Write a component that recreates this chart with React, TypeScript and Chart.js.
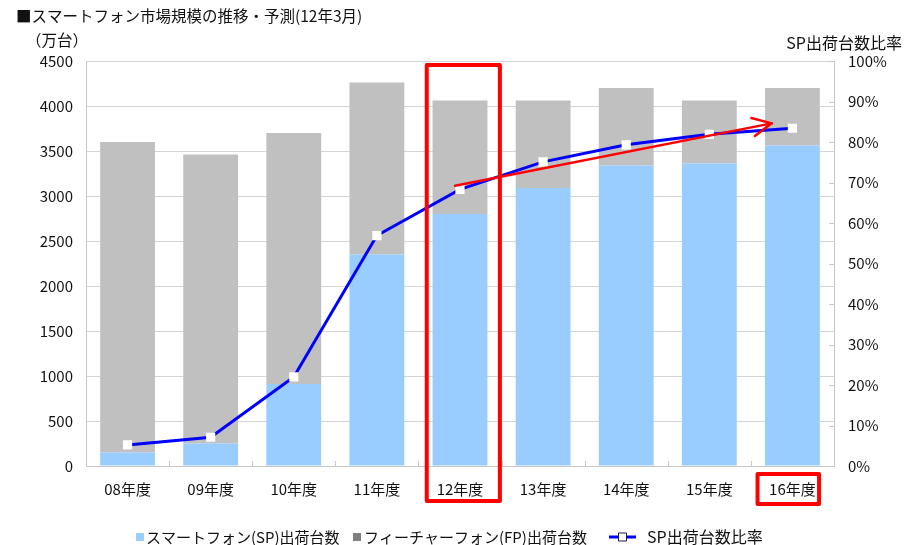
import React, { useEffect, useRef } from "react";
import { Chart, registerables } from "chart.js";

Chart.register(...registerables);

const categories = ["08年度", "09年度", "10年度", "11年度", "12年度", "13年度", "14年度", "15年度", "16年度"];
const spUnits = [150, 250, 910, 2350, 2800, 3090, 3340, 3360, 3560];
const fpUnits = [3450, 3210, 2790, 1910, 1260, 970, 860, 700, 640];
const spRatio = [5.2, 7.1, 22, 56.9, 68.3, 75.1, 79.3, 81.9, 83.4];
const leftTicks = [0, 500, 1000, 1500, 2000, 2500, 3000, 3500, 4000, 4500];
const rightTicks = [0, 10, 20, 30, 40, 50, 60, 70, 80, 90, 100];

const titleText = "■スマートフォン市場規模の推移・予測(12年3月)";
const leftUnit = "（万台）";
const rightUnit = "SP出荷台数比率";
const legendSP = "スマートフォン(SP)出荷台数";
const legendFP = "フィーチャーフォン(FP)出荷台数";
const legendRatio = "SP出荷台数比率";

const FONT = "'Noto Sans CJK JP', 'Noto Sans', sans-serif";
const SP_COLOR = "#99ccff";
const FP_COLOR = "#c0c0c0";
const LINE_COLOR = "#0000ff";

const overlayPlugin = {
  id: "overlay",
  afterDraw(chart: any) {
    const ctx = chart.ctx as CanvasRenderingContext2D;
    const xs = chart.scales.x;
    const ys = chart.scales.y;
    const y1 = chart.scales.y1;
    const area = chart.chartArea;
    const catW = (area.right - area.left) / categories.length;
    ctx.save();

    // inward ticks on x axis at category boundaries
    ctx.strokeStyle = "#c8c8c8";
    ctx.lineWidth = 1;
    for (let i = 0; i < categories.length - 1; i++) {
      const x = Math.round(xs.getPixelForValue(i) + catW / 2) + 0.5;
      ctx.beginPath();
      ctx.moveTo(x, area.bottom);
      ctx.lineTo(x, area.bottom - 5);
      ctx.stroke();
    }
    // inward ticks on right axis
    for (const t of rightTicks) {
      const y = Math.round(y1.getPixelForValue(t)) + 0.5;
      ctx.beginPath();
      ctx.moveTo(area.right, y);
      ctx.lineTo(area.right - 5, y);
      ctx.stroke();
    }

    // texts
    ctx.fillStyle = "#111";
    ctx.textBaseline = "middle";
    ctx.textAlign = "left";
    ctx.font = `15.5px ${FONT}`;
    ctx.fillText(titleText, 16, 16);
    ctx.font = `15.5px ${FONT}`;
    ctx.fillText(leftUnit, 26, 40);
    ctx.textAlign = "right";
    ctx.font = `16px ${FONT}`;
    ctx.fillText(rightUnit, 902, 43);

    // red annotations
    ctx.strokeStyle = "#ff0000";
    ctx.lineJoin = "round";
    ctx.lineWidth = 4;
    const c12 = xs.getPixelForValue(4);
    const top12 = ys.getPixelForValue(4500) + 4;
    ctx.beginPath();
    ctx.rect(c12 - catW * 0.4, top12, catW * 0.88, area.bottom + 35 - top12);
    ctx.stroke();
    const c16 = xs.getPixelForValue(8);
    ctx.beginPath();
    ctx.rect(c16 - catW * 0.42, area.bottom + 8, catW * 0.74, 30);
    ctx.stroke();

    // arrow
    const ax0 = xs.getPixelForValue(4) - catW * 0.06;
    const ay0 = y1.getPixelForValue(69.2);
    const ax1 = xs.getPixelForValue(8) - catW * 0.25;
    const ay1 = y1.getPixelForValue(84.6);
    ctx.lineWidth = 2.5;
    ctx.lineCap = "round";
    ctx.beginPath();
    ctx.moveTo(ax0, ay0);
    ctx.lineTo(ax1, ay1);
    ctx.stroke();
    const ang = Math.atan2(ay1 - ay0, ax1 - ax0);
    const hl = 21;
    const spread = (26 * Math.PI) / 180;
    ctx.beginPath();
    ctx.moveTo(ax1 - hl * Math.cos(ang - spread), ay1 - hl * Math.sin(ang - spread));
    ctx.lineTo(ax1, ay1);
    ctx.lineTo(ax1 - hl * Math.cos(ang + spread), ay1 - hl * Math.sin(ang + spread));
    ctx.stroke();

    // legend
    const ly = 537;
    ctx.textAlign = "left";
    ctx.font = `15px ${FONT}`;
    ctx.fillStyle = SP_COLOR;
    ctx.fillRect(136, ly - 4, 8, 8);
    ctx.fillStyle = "#111";
    ctx.fillText(legendSP, 146, ly);
    ctx.fillStyle = "#808080";
    ctx.fillRect(353, ly - 4, 8, 8);
    ctx.fillStyle = "#111";
    ctx.fillText(legendFP, 364, ly);
    ctx.strokeStyle = LINE_COLOR;
    ctx.lineWidth = 3;
    ctx.lineCap = "butt";
    ctx.beginPath();
    ctx.moveTo(609, ly);
    ctx.lineTo(636, ly);
    ctx.stroke();
    ctx.fillStyle = "#fff";
    ctx.fillRect(618, ly - 4.5, 9, 9);
    ctx.strokeStyle = "#1a1a40";
    ctx.lineWidth = 1;
    ctx.strokeRect(618.5, ly - 4, 8, 8);
    ctx.fillStyle = "#111";
    ctx.font = `16px ${FONT}`;
    ctx.fillText(legendRatio, 647, ly);

    ctx.restore();
  },
};

export default function App() {
  const ref = useRef<HTMLCanvasElement | null>(null);
  useEffect(() => {
    document.body.style.margin = "0";
    const canvas = ref.current;
    if (!canvas) return;
    const chart = new Chart(canvas, {
      type: "bar",
      data: {
        labels: categories,
        datasets: [
          {
            type: "line",
            label: legendRatio,
            data: spRatio,
            yAxisID: "y1",
            borderColor: LINE_COLOR,
            borderWidth: 3,
            pointStyle: "rect",
            pointRadius: 6.5,
            pointBackgroundColor: "#ffffff",
            pointBorderColor: "#ffffff",
            pointBorderWidth: 0,
            tension: 0,
            order: 0,
          } as any,
          {
            type: "bar",
            label: legendSP,
            data: spUnits,
            backgroundColor: SP_COLOR,
            yAxisID: "y",
            stack: "units",
            barPercentage: 0.66,
            categoryPercentage: 1,
            order: 1,
          },
          {
            type: "bar",
            label: legendFP,
            data: fpUnits,
            backgroundColor: FP_COLOR,
            yAxisID: "y",
            stack: "units",
            barPercentage: 0.66,
            categoryPercentage: 1,
            order: 1,
          },
        ],
      },
      options: {
        animation: false,
        responsive: false,
        devicePixelRatio: 1,
        layout: { padding: { top: 61, left: 0, right: 0, bottom: 0 } },
        plugins: {
          legend: { display: false },
          tooltip: { enabled: false },
          title: { display: false },
        },
        scales: {
          x: {
            stacked: true,
            grid: { display: true, drawOnChartArea: false, drawTicks: false },
            border: { display: true, color: "#c8c8c8", width: 1 },
            ticks: { color: "#111", font: { family: FONT, size: 15 }, padding: 14 },
            afterFit: (s: any) => {
              s.height = 79;
            },
          },
          y: {
            stacked: true,
            position: "left",
            min: 0,
            max: 4500,
            afterBuildTicks: (s: any) => {
              s.ticks = leftTicks.map((v) => ({ value: v }));
            },
            grid: { color: "#d4d4d4", drawTicks: false },
            border: { display: true, color: "#c8c8c8" },
            ticks: {
              color: "#111",
              font: { family: FONT, size: 15 },
              padding: 13,
              callback: (v: any) => String(v),
            },
            afterFit: (s: any) => {
              s.width = 86;
            },
          },
          y1: {
            position: "right",
            min: 0,
            max: 100,
            afterBuildTicks: (s: any) => {
              s.ticks = rightTicks.map((v) => ({ value: v }));
            },
            grid: { drawOnChartArea: false, drawTicks: false },
            border: { display: true, color: "#c8c8c8" },
            ticks: {
              color: "#111",
              font: { family: FONT, size: 15 },
              padding: 14,
              callback: (v: any) => `${v}%`,
            },
            afterFit: (s: any) => {
              s.width = 79;
            },
          },
        },
      },
      plugins: [overlayPlugin],
    });
    return () => chart.destroy();
  }, []);
  return (
    <div style={{ width: 913, height: 545, background: "#fff" }}>
      <canvas ref={ref} width={913} height={545} style={{ display: "block" }} />
    </div>
  );
}
